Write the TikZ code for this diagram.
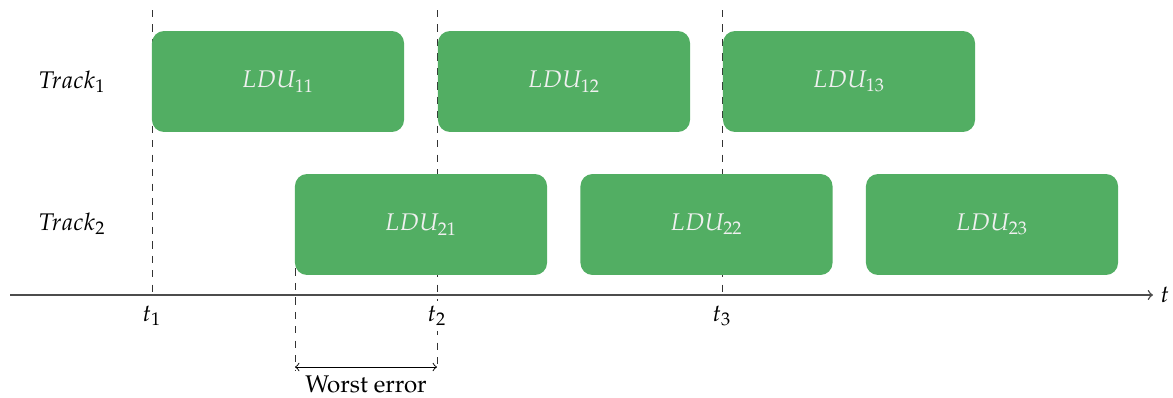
\documentclass[tikz,border=0pt]{standalone}
\usepackage[T1]{fontenc}
\usepackage{mathpazo}
\definecolor{ldugreen}{RGB}{82,174,99}
\tikzset{
  ldubox/.style={fill=ldugreen, draw=none, rounded corners=5pt, minimum width=104.6pt, minimum height=41.9pt, inner sep=0pt, text=white!94!black},
  guide/.style={dashed, black!80, line width=0.4pt},
  axisline/.style={->, black!70, line width=0.6pt},
  lbl/.style={inner sep=0pt},
  tlbl/.style={inner sep=2pt, fill=white}
}
\begin{document}
\begin{tikzpicture}[x=0.415pt,y=-0.415pt]
\useasboundingbox (0,0) rectangle (1173,397);
% guide coordinates
\coordinate (g1top) at (152,10);
\coordinate (g1bot) at (152,295);
\coordinate (g2top) at (437,10);
\coordinate (g2bot) at (437,370);
\coordinate (g3top) at (722,10);
\coordinate (g3bot) at (722,295);
\coordinate (gwtop) at (295,225);
\coordinate (gwbot) at (295,370);
\draw[guide] (g1top) -- (g1bot);
\draw[guide] (g2top) -- (g2bot);
\draw[guide] (g3top) -- (g3bot);
\draw[guide] (gwtop) -- (gwbot);
% boxes
\node[ldubox] (l11) at (278,81.5) {$LDU_{11}$};
\node[ldubox] (l12) at (564,81.5) {$LDU_{12}$};
\node[ldubox] (l13) at (849,81.5) {$LDU_{13}$};
\node[ldubox] (l21) at (421,224.5) {$LDU_{21}$};
\node[ldubox] (l22) at (706.5,224.5) {$LDU_{22}$};
\node[ldubox] (l23) at (992,224.5) {$LDU_{23}$};
% track labels
\node[lbl] (tr1) at (72,82) {$Track_1$};
\node[lbl] (tr2) at (72,224) {$Track_2$};
% axis
\coordinate (ax0) at (10,295);
\coordinate (ax1) at (1153,295);
\draw[axisline] (ax0) -- (ax1);
\node[lbl, anchor=west] (tlab) at (1160,295) {$t$};
\node[tlbl] (t1) at (152,316) {$t_1$};
\node[tlbl] (t2) at (437,316) {$t_2$};
\node[tlbl] (t3) at (722,316) {$t_3$};
% worst error
\coordinate (we0) at (295,367);
\coordinate (we1) at (437,367);
\draw[<->, line width=0.4pt] (we0) -- (we1);
\node[lbl] (we) at (366,384) {Worst error};
\end{tikzpicture}
\end{document}
